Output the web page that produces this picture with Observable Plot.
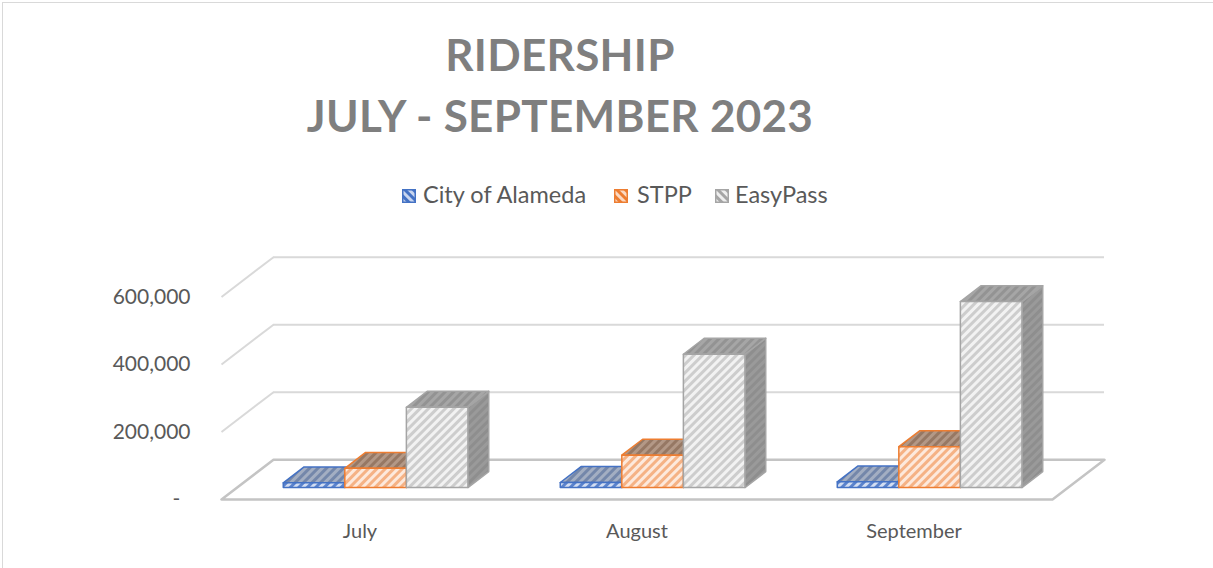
<!DOCTYPE html>
<html>
<head>
<meta charset="utf-8">
<script src="https://cdn.jsdelivr.net/npm/d3@7"></script>
<script src="https://cdn.jsdelivr.net/npm/@observablehq/plot@0.6"></script>
<style>
  html, body { margin: 0; padding: 0; background: #fff; }
  body { width: 1213px; height: 568px; overflow: hidden; position: relative; font-family: Lato, "Open Sans", sans-serif; }
  #frame { position: absolute; left: 2px; top: 2px; width: 1400px; height: 800px; border: 1.5px solid #d9d9d9; box-sizing: border-box; }
  #title { position: absolute; left: 0; top: 24px; width: 1120px; text-align: center; font-weight: 700; font-size: 44px; line-height: 61px; color: #7f7f7f; letter-spacing: 0.3px; }
  #legend { position: absolute; top: 181px; left: 0; height: 26px; font-size: 23.5px; line-height: 26px; color: #595959; }
  .item { position: absolute; top: 0; white-space: nowrap; }
  .item svg { position: absolute; top: 8px; }
  .item span { position: absolute; top: 0; white-space: nowrap; }
  #chart { position: absolute; left: 0; top: 240px; }
</style>
</head>
<body>
<div id="frame"></div>
<svg width="0" height="0" style="position:absolute">
  <defs id="defs"></defs>
</svg>
<div id="title">RIDERSHIP<br>JULY - SEPTEMBER 2023</div>
<div id="legend"></div>
<div id="chart"></div>
<script>
// ---- data ----
const months = ["July", "August", "September"];
const seriesNames = ["City of Alameda", "STPP", "EasyPass"];
const cityOfAlameda = [14000, 15000, 17000];
const stpp = [57000, 96000, 121000];
const easyPass = [238000, 395000, 551000];
const yTicks = [200000, 400000, 600000];

// ---- styles ----
const seriesColors = ["#4472c4", "#ed7d31", "#a5a5a5"];
const patternSpec = {
  front: [["#d3def2", "#5b83cc"], ["#fde9dc", "#f5b285"], ["#f2f2f2", "#cdcdcd"]],
  top:   [["#a3aec2", "#7487aa"], ["#b39886", "#967864"], ["#a6a6a6", "#939393"]],
  side:  [["#7f8ca6", "#6d7c99"], ["#a98c78", "#937561"], ["#8e8e8e", "#9a9a9a"]],
  legend:[["#c9d6ef", "#4472c4"], ["#fbd9c2", "#ed7d31"], ["#eeeeee", "#a5a5a5"]]
};
const defs = d3.select("#defs");
for (const [kind, list] of Object.entries(patternSpec)) {
  list.forEach(([bg, fg], s) => {
    const p = defs.append("pattern")
      .attr("id", `p-${kind}-${s}`)
      .attr("patternUnits", "userSpaceOnUse")
      .attr("width", 6).attr("height", 6)
      .attr("patternTransform", kind === "legend" ? "rotate(-45)" : "rotate(45)");
    p.append("rect").attr("width", 6).attr("height", 6).attr("fill", bg);
    p.append("rect").attr("width", 3).attr("height", 6).attr("fill", fg);
  });
}

// ---- geometry (oblique projection in data space) ----
const DEPTH_X = 0.1877;     // depth in category units
const DEPTH_Y = 118000;     // depth in value units
const GAP = 0.75 / 4.5, BW = 1 / 4.5;
const D0 = 0.3, D1 = 0.7;
const values = [cityOfAlameda, stpp, easyPass];
const P = (x, y, d) => ({x: x + d * DEPTH_X, y: y + d * DEPTH_Y});

const faces = [];
values.forEach((vals, s) => {
  vals.forEach((v, i) => {
    const x0 = i + GAP + s * BW, x1 = x0 + BW;
    const add = (type, pts) => pts.forEach(p => faces.push({...p, type, id: `${type}-${s}-${i}`,
      fill: `url(#p-${type}-${s})`, stroke: seriesColors[s]}));
    add("side", [P(x1, 0, D0), P(x1, 0, D1), P(x1, v, D1), P(x1, v, D0)]);
    add("top", [P(x0, v, D0), P(x1, v, D0), P(x1, v, D1), P(x0, v, D1)]);
    add("front", [P(x0, 0, D0), P(x1, 0, D0), P(x1, v, D0), P(x0, v, D0)]);
  });
});
const floor = [P(0, 0, 0), P(3, 0, 0), P(3, 0, 1), P(0, 0, 1)];

const faceMark = type => Plot.line(faces.filter(f => f.type === type), {
  x: "x", y: "y", z: "id", fill: "fill", stroke: "stroke", strokeWidth: 1.5,
  curve: "linear-closed", strokeLinejoin: "round"
});

const chart = Plot.plot({
  width: 1213, height: 320,
  marginLeft: 221, marginRight: 109, marginTop: 16, marginBottom: 61,
  style: {fontFamily: "Lato, 'Open Sans', sans-serif", fontSize: "21px", color: "#595959", background: "transparent"},
  x: {domain: [0, 3 + DEPTH_X], axis: null},
  y: {domain: [0, 720000], ticks: yTicks, tickSize: 0, tickPadding: 31, tickFormat: d3.format(","), label: null},
  color: {type: "identity"},
  marks: [
    Plot.ruleY(yTicks, {y: d => d + DEPTH_Y, x1: () => DEPTH_X, x2: () => 3 + DEPTH_X, stroke: "#d9d9d9", strokeWidth: 2}),
    Plot.link(yTicks, {x1: () => 0, y1: d => d, x2: () => DEPTH_X, y2: d => d + DEPTH_Y, stroke: "#d9d9d9", strokeWidth: 2}),
    Plot.line(floor, {x: "x", y: "y", fill: "#ffffff", stroke: "#c4c4c4", strokeWidth: 2.5, curve: "linear-closed"}),
    faceMark("side"),
    faceMark("top"),
    faceMark("front"),
    Plot.text([0], {x: () => 0, y: d => d, text: () => "-", dx: -45, fill: "#595959"}),
    Plot.text(months, {x: (d, i) => i + 0.5, y: () => 0, text: d => d, dy: 32, fontSize: 20, fill: "#595959"})
  ]
});
document.getElementById("chart").append(chart);

// ---- legend ----
const legendPos = [[402, 423], [614, 637], [715, 735]];
const legend = d3.select("#legend");
seriesNames.forEach((name, s) => {
  const item = legend.append("div").attr("class", "item");
  const sw = item.append("svg").attr("width", 14).attr("height", 14).style("left", legendPos[s][0] + "px");
  sw.append("rect").attr("x", 0.75).attr("y", 0.75).attr("width", 12.5).attr("height", 12.5)
    .attr("fill", `url(#p-legend-${s})`).attr("stroke", seriesColors[s]).attr("stroke-width", 1.5);
  item.append("span").style("left", legendPos[s][1] + "px").text(name);
});
</script>
</body>
</html>
